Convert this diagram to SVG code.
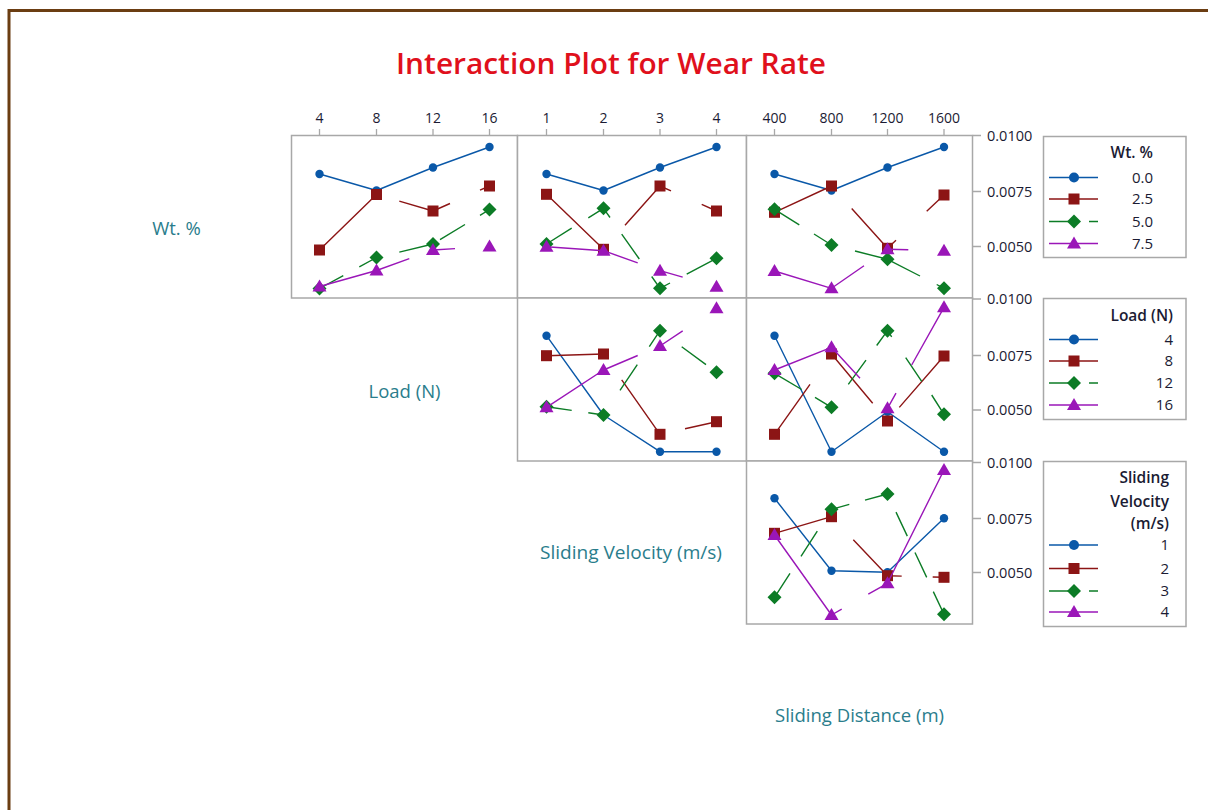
<svg xmlns="http://www.w3.org/2000/svg" width="1208" height="810" viewBox="0 0 1208 810">
  <style>
    .frame{fill:#fff;stroke:#6b3d12;stroke-width:3}
    .panel{fill:#fff;stroke:#a8a8a8;stroke-width:1.5}
    .tick{stroke:#a8a8a8;stroke-width:1.3;fill:none}
    .tl{font-family:"Open Sans","Noto Sans",sans-serif;font-size:14px;font-weight:500;fill:#1b1b33}
    .yl{font-family:"Open Sans","Noto Sans",sans-serif;font-size:14.5px;font-weight:500;fill:#1b1b33}
    .ax{font-family:"Open Sans","Noto Sans",sans-serif;font-size:18.5px;fill:#2a7d8c}
    .title{font-family:"Open Sans","Noto Sans",sans-serif;font-size:28.5px;font-weight:600;fill:#e0101c}
    .lgt{font-family:"Open Sans","Noto Sans",sans-serif;font-size:15.5px;font-weight:600;fill:#1b1b33}
    .lgv{font-family:"Open Sans","Noto Sans",sans-serif;font-size:15px;font-weight:500;fill:#1b1b33}
    .lgbox{fill:#fff;stroke:#a8a8a8;stroke-width:1.5}
    .ln{fill:none;stroke-width:1.4;stroke-linejoin:round}
    .c1{stroke:#0a58a8}.c2{stroke:#8c1515}.c3{stroke:#0c7c26}.c4{stroke:#9a16b8}
    .m1{fill:#0a58a8}.m2{fill:#8c1515}.m3{fill:#0c7c26}.m4{fill:#9a16b8}
  </style>
  <defs>
    <circle id="mc" r="4.2"/>
    <rect id="ms" x="-5.5" y="-5.5" width="11" height="11"/>
    <polygon id="md" points="0,-7 7,0 0,7 -7,0"/>
    <polygon id="mt" points="0,-7 7,5 -7,5"/>
    <circle id="lc" r="5"/>
  </defs>

  <!-- outer frame -->
  <rect class="frame" x="9" y="10.5" width="1300" height="900"/>

  <text class="title" x="611" y="74" text-anchor="middle" textLength="430" lengthAdjust="spacingAndGlyphs">Interaction Plot for Wear Rate</text>

  <!-- factor labels on the diagonal -->
  <g id="factor-labels">
    <text class="ax" x="176.5" y="235" text-anchor="middle">Wt. %</text>
    <text class="ax" x="404.5" y="398" text-anchor="middle">Load (N)</text>
    <text class="ax" x="631" y="559" text-anchor="middle" textLength="182" lengthAdjust="spacingAndGlyphs">Sliding Velocity (m/s)</text>
    <text class="ax" x="859.5" y="722" text-anchor="middle" textLength="169" lengthAdjust="spacingAndGlyphs">Sliding Distance (m)</text>
  </g>

  <!-- top axis ticks and labels -->
  <g id="top-axis">
    <path class="tick" d="M319.5,129V135M376.5,129V135M433,129V135M489.5,129V135M546.5,129V135M603.5,129V135M660,129V135M716.5,129V135M774.5,129V135M831.5,129V135M887.5,129V135M944,129V135"/>
    <g class="tl" text-anchor="middle">
      <text x="319.5" y="123">4</text><text x="376.5" y="123">8</text><text x="433" y="123">12</text><text x="489.5" y="123">16</text>
      <text x="546.5" y="123">1</text><text x="603.5" y="123">2</text><text x="660" y="123">3</text><text x="716.5" y="123">4</text>
      <text x="774.5" y="123">400</text><text x="831.5" y="123">800</text><text x="887.5" y="123">1200</text><text x="944" y="123">1600</text>
    </g>
  </g>

  <!-- right axis ticks and labels -->
  <g id="right-axis">
    <path class="tick" d="M972.5,135.5H981M972.5,191.5H981M972.5,246.5H981M972.5,299H981M972.5,355.5H981M972.5,410H981M972.5,462.5H981M972.5,518.5H981M972.5,572.5H981"/>
    <g class="yl">
      <text x="987" y="140.5">0.0100</text><text x="987" y="196.5">0.0075</text><text x="987" y="251.5">0.0050</text>
      <text x="987" y="304">0.0100</text><text x="987" y="360.5">0.0075</text><text x="987" y="415">0.0050</text>
      <text x="987" y="467.5">0.0100</text><text x="987" y="523.5">0.0075</text><text x="987" y="577.5">0.0050</text>
    </g>
  </g>

  <!-- panel: Wt. % by Load -->
  <g id="panel-wt-load">
    <rect class="panel" x="291.5" y="135.5" width="226" height="162.5"/>
    <path class="ln c1" d="M319.5,174L376.5,190.5L433,167.5L489.5,147"/>
    <g class="m1"><use href="#mc" x="319.5" y="174"/><use href="#mc" x="376.5" y="190.5"/><use href="#mc" x="433" y="167.5"/><use href="#mc" x="489.5" y="147"/></g>
    <path class="ln c2" d="M319.5,250L376.5,194.5M399.3,201.2L433,211L450,203.5M480,190.2L489.5,186"/>
    <g class="m2"><use href="#ms" x="319.5" y="250"/><use href="#ms" x="376.5" y="194.5"/><use href="#ms" x="433" y="211"/><use href="#ms" x="489.5" y="186"/></g>
    <path class="ln c3" d="M319.5,288.5L343.3,275.6M359.3,266.9L376.5,257.5M399.3,252.1L433,244M440,239.7L465,224.5M480,215.3L489.5,209.5"/>
    <g class="m3"><use href="#md" x="319.5" y="288.5"/><use href="#md" x="376.5" y="257.5"/><use href="#md" x="433" y="244"/><use href="#md" x="489.5" y="209.5"/></g>
    <path class="ln c4" d="M319.5,286.5L376.5,270.5L409.3,258.6M433,250L455,248.6"/>
    <g class="m4"><use href="#mt" x="319.5" y="286.5"/><use href="#mt" x="376.5" y="270.5"/><use href="#mt" x="433" y="250"/><use href="#mt" x="489.5" y="246.5"/></g>
  </g>

  <!-- panel: Wt. % by Sliding Velocity -->
  <g id="panel-wt-velocity">
    <rect class="panel" x="517.5" y="135.5" width="229" height="162.5"/>
    <path class="ln c1" d="M546.5,174L603.5,190.5L660,167.5L716.5,147"/>
    <g class="m1"><use href="#mc" x="546.5" y="174"/><use href="#mc" x="603.5" y="190.5"/><use href="#mc" x="660" y="167.5"/><use href="#mc" x="716.5" y="147"/></g>
    <path class="ln c2" d="M546.5,194.3L603.5,249.3M625,225.2L660,186L671,190.9M701.7,204.4L716.5,211"/>
    <g class="m2"><use href="#ms" x="546.5" y="194.3"/><use href="#ms" x="603.5" y="249.3"/><use href="#ms" x="660" y="186"/><use href="#ms" x="716.5" y="211"/></g>
    <path class="ln c3" d="M546.5,244L571.7,228.2M588.3,217.8L603.5,208.3L610,217.5M621.7,234.1L639.3,259M651.7,276.5L660,288.3L670,283M686.7,274.1L716.5,258.3"/>
    <g class="m3"><use href="#md" x="546.5" y="244"/><use href="#md" x="603.5" y="208.3"/><use href="#md" x="660" y="288.3"/><use href="#md" x="716.5" y="258.3"/></g>
    <path class="ln c4" d="M546.5,246.7L603.5,250.7L637.7,262.8M660,270.7L682.7,277.1"/>
    <g class="m4"><use href="#mt" x="546.5" y="246.7"/><use href="#mt" x="603.5" y="250.7"/><use href="#mt" x="660" y="270.7"/><use href="#mt" x="716.5" y="286.7"/></g>
  </g>

  <!-- panel: Wt. % by Sliding Distance -->
  <g id="panel-wt-distance">
    <rect class="panel" x="746.5" y="135.5" width="226" height="162.5"/>
    <path class="ln c1" d="M774.5,174L831.5,190.5L887.5,167.5L944,147"/>
    <g class="m1"><use href="#mc" x="774.5" y="174"/><use href="#mc" x="831.5" y="190.5"/><use href="#mc" x="887.5" y="167.5"/><use href="#mc" x="944" y="147"/></g>
    <path class="ln c2" d="M774.5,212.3L831.5,186M851.7,208.5L887.5,248.3L896,240.3M926.7,211.3L944,195"/>
    <g class="m2"><use href="#ms" x="774.5" y="212.3"/><use href="#ms" x="831.5" y="186"/><use href="#ms" x="887.5" y="248.3"/><use href="#ms" x="944" y="195"/></g>
    <path class="ln c3" d="M774.5,209.3L799.3,224.8M814,234L831.5,245M855,251L887.5,259.3L920,276M936.7,284.5L944,288.3"/>
    <g class="m3"><use href="#md" x="774.5" y="209.3"/><use href="#md" x="831.5" y="245"/><use href="#md" x="887.5" y="259.3"/><use href="#md" x="944" y="288.3"/></g>
    <path class="ln c4" d="M774.5,271L831.5,288.3L864,265.7M887.5,249.3L908.3,249.8"/>
    <g class="m4"><use href="#mt" x="774.5" y="271"/><use href="#mt" x="831.5" y="288.3"/><use href="#mt" x="887.5" y="249.3"/><use href="#mt" x="944" y="250.7"/></g>
  </g>

  <!-- panel: Load by Sliding Velocity -->
  <g id="panel-load-velocity">
    <rect class="panel" x="517.5" y="298" width="229" height="163"/>
    <path class="ln c1" d="M546.5,335.7L603.5,415L660,451.7L716.5,451.7"/>
    <g class="m1"><use href="#mc" x="546.5" y="335.7"/><use href="#mc" x="603.5" y="415"/><use href="#mc" x="660" y="451.7"/><use href="#mc" x="716.5" y="451.7"/></g>
    <path class="ln c2" d="M546.5,355.7L603.5,354M621.7,379.9L660,434.3M685,428.7L716.5,421.7"/>
    <g class="m2"><use href="#ms" x="546.5" y="355.7"/><use href="#ms" x="603.5" y="354"/><use href="#ms" x="660" y="434.3"/><use href="#ms" x="716.5" y="421.7"/></g>
    <path class="ln c3" d="M546.5,406.7L571.7,410.4M588.3,412.8L603.5,415M620,390.4L637.3,364.6M649.3,346.7L660,330.7M681.7,346.7L706,364.6"/>
    <g class="m3"><use href="#md" x="546.5" y="406.7"/><use href="#md" x="603.5" y="415"/><use href="#md" x="660" y="330.7"/><use href="#md" x="716.5" y="372.3"/></g>
    <path class="ln c4" d="M546.5,407.3L603.5,370L637.7,355.5M660,346L682.7,330.9"/>
    <g class="m4"><use href="#mt" x="546.5" y="407.3"/><use href="#mt" x="603.5" y="370"/><use href="#mt" x="660" y="346"/><use href="#mt" x="716.5" y="308.3"/></g>
  </g>

  <!-- panel: Load by Sliding Distance -->
  <g id="panel-load-distance">
    <rect class="panel" x="746.5" y="298" width="226" height="163"/>
    <path class="ln c1" d="M774.5,335.7L831.5,451.7L887.5,411.7L944,451.7"/>
    <g class="m1"><use href="#mc" x="774.5" y="335.7"/><use href="#mc" x="831.5" y="451.7"/><use href="#mc" x="887.5" y="411.7"/><use href="#mc" x="944" y="451.7"/></g>
    <path class="ln c2" d="M774.5,434.3L810,384.3M831.5,354L872.7,403.3M899.3,407.4L944,356"/>
    <g class="m2"><use href="#ms" x="774.5" y="434.3"/><use href="#ms" x="831.5" y="354"/><use href="#ms" x="887.5" y="421"/><use href="#ms" x="944" y="356"/></g>
    <path class="ln c3" d="M774.5,373.3L801.7,389.5M815,397.4L831.5,407.3M848.3,384.3L866,360.1M876.7,345.5L887.5,330.7L891.7,336.9M905.7,357.6L921.7,381.3M931.7,395L944,414.3"/>
    <g class="m3"><use href="#md" x="774.5" y="373.3"/><use href="#md" x="831.5" y="407.3"/><use href="#md" x="887.5" y="330.7"/><use href="#md" x="944" y="414.3"/></g>
    <path class="ln c4" d="M774.5,370L831.5,347.3L860,378.3M887.5,408.3L896,393.1M911.7,365L944,307.3"/>
    <g class="m4"><use href="#mt" x="774.5" y="370"/><use href="#mt" x="831.5" y="347.3"/><use href="#mt" x="887.5" y="408.3"/><use href="#mt" x="944" y="307.3"/></g>
  </g>

  <!-- panel: Sliding Velocity by Sliding Distance -->
  <g id="panel-velocity-distance">
    <rect class="panel" x="746.5" y="461" width="226" height="163"/>
    <path class="ln c1" d="M774.5,498.3L831.5,570.7L887.5,572.3L944,518.3"/>
    <g class="m1"><use href="#mc" x="774.5" y="498.3"/><use href="#mc" x="831.5" y="570.7"/><use href="#mc" x="887.5" y="572.3"/><use href="#mc" x="944" y="518.3"/></g>
    <path class="ln c2" d="M774.5,533.3L831.5,516.7M853.3,539.7L887.5,575.7L901.7,576.1M932.7,577L944,577.3"/>
    <g class="m2"><use href="#ms" x="774.5" y="533.3"/><use href="#ms" x="831.5" y="516.7"/><use href="#ms" x="887.5" y="575.7"/><use href="#ms" x="944" y="577.3"/></g>
    <path class="ln c3" d="M774.5,597.3L790,573.4M801,556.4L817.3,531.2M831.5,509.3L849.3,504.4M865,500.2L887.5,494M896,512.1L907.3,536.1M915,552.5L926.7,577.4M933.3,591.6L944,614.3"/>
    <g class="m3"><use href="#md" x="774.5" y="597.3"/><use href="#md" x="831.5" y="509.3"/><use href="#md" x="887.5" y="494"/><use href="#md" x="944" y="614.3"/></g>
    <path class="ln c4" d="M774.5,535L831.5,615L841.7,609.2M868.3,594.2L887.5,583.3L944,470"/>
    <g class="m4"><use href="#mt" x="774.5" y="535"/><use href="#mt" x="831.5" y="615"/><use href="#mt" x="887.5" y="583.3"/><use href="#mt" x="944" y="470"/></g>
  </g>

  <!-- legend: Wt. % -->
  <g id="legend-wt">
    <rect class="lgbox" x="1043.5" y="136.5" width="142.5" height="121"/>
    <text class="lgt" x="1153" y="157.5" text-anchor="end">Wt. %</text>
    <path class="ln c1" d="M1049,177.5H1098"/><use class="m1" href="#lc" x="1074" y="177.5"/>
    <path class="ln c2" d="M1049,199H1098"/><use class="m2" href="#ms" x="1074" y="199"/>
    <path class="ln c3" d="M1049,221.5H1069M1089,221.5H1098"/><use class="m3" href="#md" x="1074" y="221.5"/>
    <path class="ln c4" d="M1049,243.5H1098"/><use class="m4" href="#mt" x="1074" y="243.5"/>
    <g class="lgv" text-anchor="end">
      <text x="1153" y="182.5">0.0</text><text x="1153" y="204">2.5</text><text x="1153" y="226.5">5.0</text><text x="1153" y="248.5">7.5</text>
    </g>
  </g>

  <!-- legend: Load (N) -->
  <g id="legend-load">
    <rect class="lgbox" x="1043.5" y="298.5" width="142.5" height="121"/>
    <text class="lgt" x="1173" y="320.5" text-anchor="end">Load (N)</text>
    <path class="ln c1" d="M1049,339.5H1098"/><use class="m1" href="#lc" x="1074" y="339.5"/>
    <path class="ln c2" d="M1049,361H1098"/><use class="m2" href="#ms" x="1074" y="361"/>
    <path class="ln c3" d="M1049,383H1069M1089,383H1098"/><use class="m3" href="#md" x="1074" y="383"/>
    <path class="ln c4" d="M1049,405H1098"/><use class="m4" href="#mt" x="1074" y="405"/>
    <g class="lgv" text-anchor="end">
      <text x="1173" y="344.5">4</text><text x="1173" y="366">8</text><text x="1173" y="388">12</text><text x="1173" y="410">16</text>
    </g>
  </g>

  <!-- legend: Sliding Velocity (m/s) -->
  <g id="legend-velocity">
    <rect class="lgbox" x="1043.5" y="461.5" width="142.5" height="165"/>
    <g class="lgt" text-anchor="end">
      <text x="1169" y="483">Sliding</text><text x="1169" y="507">Velocity</text><text x="1169" y="529">(m/s)</text>
    </g>
    <path class="ln c1" d="M1049,545H1098"/><use class="m1" href="#lc" x="1074" y="545"/>
    <path class="ln c2" d="M1049,568.5H1098"/><use class="m2" href="#ms" x="1074" y="568.5"/>
    <path class="ln c3" d="M1049,591H1069M1089,591H1098"/><use class="m3" href="#md" x="1074" y="591"/>
    <path class="ln c4" d="M1049,612H1098"/><use class="m4" href="#mt" x="1074" y="612"/>
    <g class="lgv" text-anchor="end">
      <text x="1169" y="550">1</text><text x="1169" y="573.5">2</text><text x="1169" y="596">3</text><text x="1169" y="617">4</text>
    </g>
  </g>
</svg>
